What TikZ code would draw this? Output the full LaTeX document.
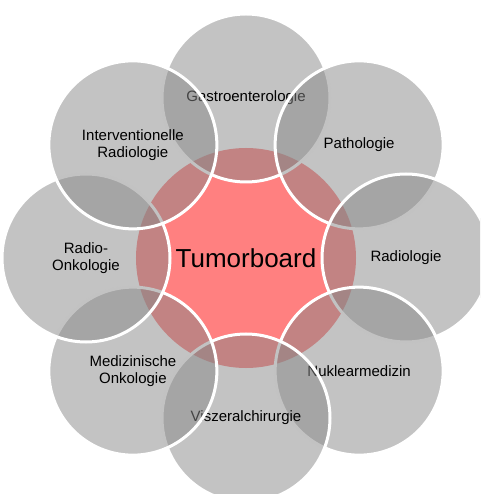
\documentclass[tikz,border=0pt]{standalone}
\usepackage{fontspec}
\setmainfont{Liberation Sans}
\usepackage{tikz}

\definecolor{boardred}{HTML}{FF8080}
\definecolor{fieldgray}{HTML}{878787}

\begin{document}
\begin{tikzpicture}[x=1pt,y=1pt,
    hub/.style={circle, fill=boardred, minimum size=220pt, inner sep=0pt,
      font=\fontsize{26}{30}\selectfont},
    field/.style={circle, fill=fieldgray, fill opacity=0.5, text opacity=1,
      draw=white, line width=3pt, minimum size=168pt, inner sep=0pt,
      align=center, font=\fontsize{15}{17}\selectfont}]
  \useasboundingbox (-246,-236) rectangle (234,258);
  \clip (-246,-236) rectangle (234,258);

  % the board in the middle
  \node[hub] (board) at (0,0) {Tumorboard};

  % disciplines, clockwise from the top
  \node[field] (gastro) at (90:160) {Gastroenterologie};
  \node[field] (patho) at (45:160) {Pathologie};
  \node[field] (radio) at (0:160) {Radiologie};
  \node[field] (nuklear) at (-45:160) {Nuklearmedizin};
  \node[field] (viszeral) at (-90:160) {Viszeralchirurgie};
  \node[field] (medonko) at (-135:160) {Medizinische\\Onkologie};
  \node[field] (radonko) at (180:160) {Radio-\\Onkologie};
  \node[field] (interv) at (135:160) {Interventionelle\\Radiologie};
\end{tikzpicture}
\end{document}
